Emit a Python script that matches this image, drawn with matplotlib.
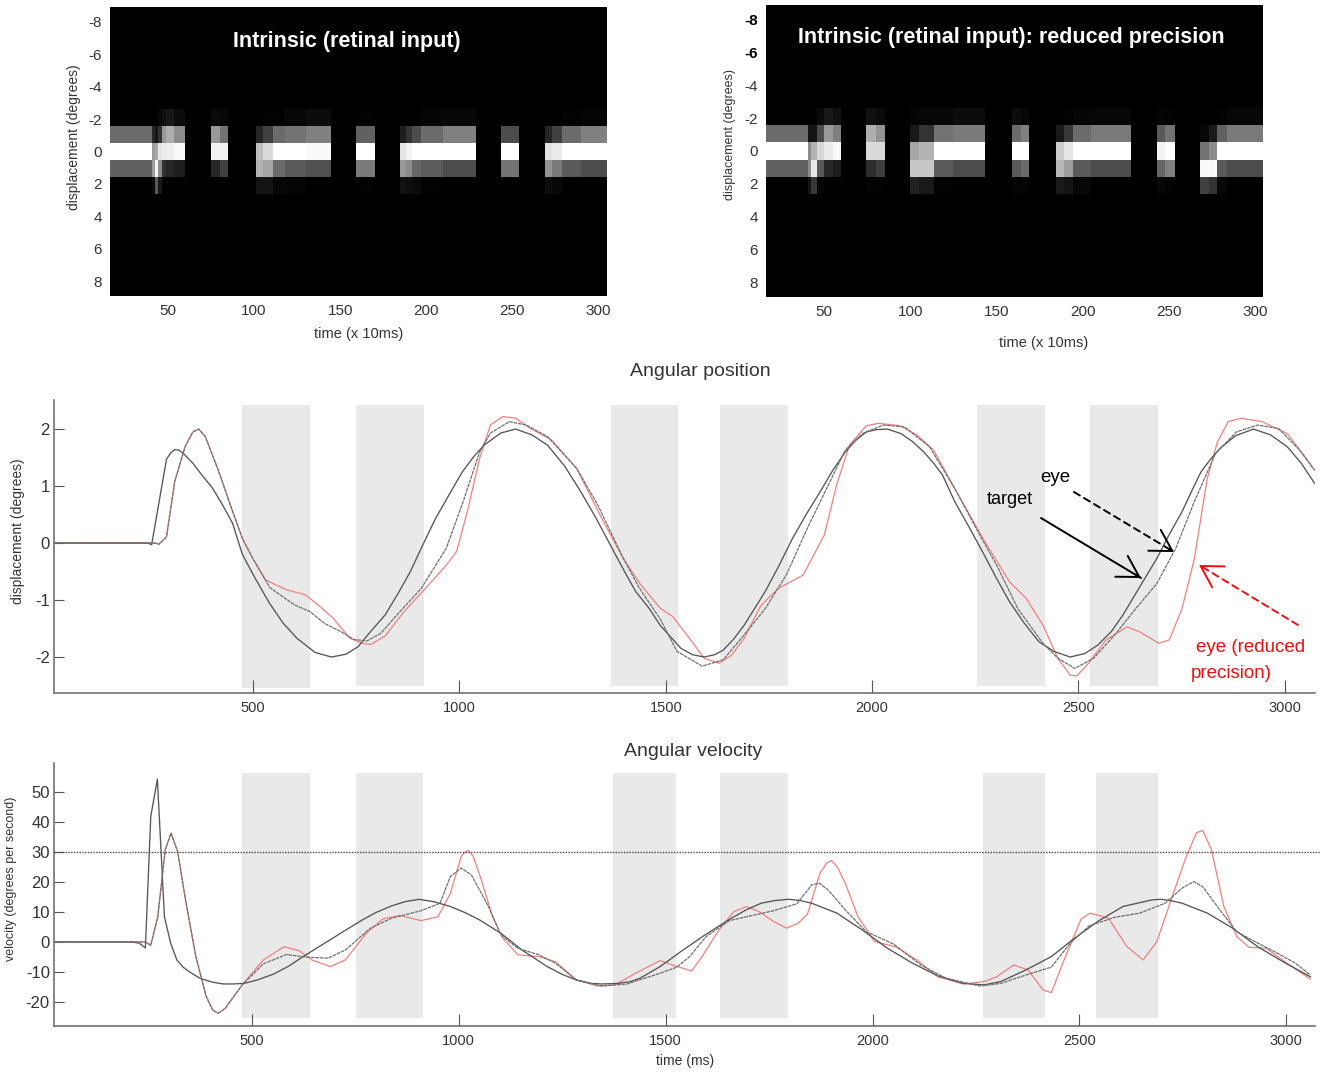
import matplotlib
matplotlib.use("Agg")
import matplotlib.pyplot as plt
import numpy as np

plt.rcParams['font.family'] = ['Liberation Sans', 'DejaVu Sans']
plt.rcParams['axes.unicode_minus'] = False

# ---------- raster panels: window edges (x 10 ms) and grey levels in rows -2,-1,0,1,2
left_edges = [16.3,40.8,42.3,44.3,46.4,49,53.7,60,75,80,85,101,105,110.8,118,130,144.5,159,170,
              185,188,192,197,210,229,243.5,254,269,273,279,290,305]
left_rows = {40.8:[0,.42,1,.38,0],42.3:[0,.15,.6,.6,.05],44.3:[0,.08,.65,.95,.35],46.4:[.03,.2,.9,.55,.1],
             49:[.06,.6,.93,.2,0],53.7:[.09,.68,.93,.15,0],60:[.05,.55,.98,.12,0],
             80:[.04,.6,.95,.15,0],85:[.03,.45,.95,.25,0],
             105:[0,.15,.75,.7,.08],110.8:[.01,.25,.85,.65,.08],118:[.01,.42,1,.42,.03],130:[.03,.45,1,.35,.02],144.5:[.05,.5,.98,.32,0],
             170:[.01,.38,1,.48,.01],
             188:[0,.12,.9,.6,.07],192:[0,.2,.95,.55,.06],197:[0,.3,1,.4,.04],210:[.02,.42,1,.36,.01],229:[.03,.5,1,.3,0],
             254:[0,.3,1,.45,0],
             273:[0,.15,.88,.58,.05],279:[0,.25,.92,.48,.03],290:[.01,.42,1,.35,0],305:[.02,.5,1,.3,0]}
right_edges = [16.2,40.4,42.5,45.6,49.7,55,59.6,74.5,80,85,99.8,105,113.4,125,143.5,159,164,169,
               184.6,189,194.5,205,228,243,248,253.7,268,273,278,284,304.6]
right_rows = {40.4:[0,.42,1,.38,0],42.5:[0,.08,.55,.55,.08],45.6:[0,.08,.7,.92,.22],49.7:[.04,.3,.85,.35,.03],
              55:[.09,.6,.92,.15,0],59.6:[.07,.5,.97,.12,0],
              80:[.07,.68,.85,.18,.01],85:[.05,.58,.85,.25,.01],
              105:[.02,.1,.65,.78,.13],113.4:[.03,.2,.7,.78,.1],125:[.03,.45,1,.35,.01],143.5:[.05,.48,1,.3,0],
              164:[.05,.42,1,.35,.02],169:[.03,.5,1,.42,.02],
              189:[0,.1,.8,.72,.1],194.5:[.01,.22,.9,.62,.08],205:[.02,.42,1,.35,.03],228:[.03,.48,1,.3,0],
              248:[.02,.35,.95,.4,.03],253.7:[.01,.45,1,.5,.01],
              273:[0,.03,.45,.98,.25],278:[0,.1,.55,.97,.2],284:[.01,.38,1,.35,.03],304.6:[.03,.48,1,.3,0]}
raster_x_ticks = [50,100,150,200,250,300]
raster_y_ticks = [-8,-6,-4,-2,0,2,4,6,8]

# ---------- angular position
pos_target_t = [17,245,254,272,290,300,310,320,330,354,375,400,425,450,474,505,540,572,606,650,690,725,754,785,820,850,881,910,942,975,1007,1035,1060,1100,1136,1175,1213,1255,1294,1330,1366,1400,1427,1460,1487,
                1537,1565,1593,1618,1639,1665,1690,1741,1774,1807,1840,1874,1905,1935,1960,1986,2010,2037,2070,2098,2125,2149,2170,2200,2235,2271,2300,2333,2368,2404,2440,2480,2515,2547,2580,2608,2650,2690,2720,2751,2775,2797,2820,2843,2880,2924,2965,3006,3040,3072]
pos_target = [0,0,-.03,.72,1.47,1.58,1.64,1.63,1.58,1.40,1.2,.98,.68,.35,-.2,-.62,-1.06,-1.4,-1.67,-1.92,-2,-1.95,-1.82,-1.55,-1.26,-.9,-.5,-.05,.43,.85,1.25,1.52,1.72,1.93,2,1.9,1.72,1.35,.9,.45,-.04,-.5,-.85,-1.15,-1.45,
              -1.85,-1.96,-2,-1.96,-1.88,-1.68,-1.44,-.85,-.4,.08,.5,.9,1.28,1.6,1.8,1.95,1.99,2,1.92,1.78,1.6,1.4,1.2,.73,.28,-.2,-.6,-1.03,-1.4,-1.73,-1.9,-2,-1.94,-1.79,-1.55,-1.26,-.75,-.27,.15,.55,.92,1.25,1.47,1.66,1.88,2,1.9,1.69,1.4,1.05]
pos_eye_t = [17,262,272,290,310,335,354,368,384,417,448,474,499,530,540,601,637,673,714,744,775,810,856,907,968,1009,1049,1075,1121,1162,1213,1284,1335,1397,1437,1487,
             1527,1588,1639,1690,1741,1792,1843,1894,1935,1976,2027,2078,2139,2200,2261,2302,2353,2414,2450,2491,2537,2588,2639,2690,2736,2781,2832,2883,2934,2985,3036,3072]
pos_eye = [0,0,-.02,.11,1.08,1.69,1.95,2,1.87,1.25,.6,.08,-.27,-.65,-.78,-1.09,-1.2,-1.41,-1.56,-1.69,-1.72,-1.58,-1.2,-.8,-.09,.73,1.6,1.93,2.13,2.07,1.87,1.31,.67,-.27,-.8,-1.34,
           -1.9,-2.16,-2.05,-1.61,-1.15,-.56,.26,1.02,1.63,1.92,2.07,2.04,1.69,.96,.14,-.39,-1.15,-1.76,-2.02,-2.2,-2.02,-1.61,-1.15,-.71,-.09,.73,1.57,1.95,2.07,2.01,1.63,1.28]
pos_red_t = [17,262,272,290,310,335,354,368,384,417,448,474,499,530,581,627,663,694,734,765,785,820,866,917,968,993,1019,1049,1075,1105,1136,1172,1223,1284,1345,1397,1437,1487,
             1517,1557,1593,1629,1659,1690,1731,1772,1833,1884,1914,1945,1986,2016,2067,2108,2149,2200,2271,2333,2373,2414,2450,2480,2496,2521,2567,2618,2649,2695,2720,2751,2781,2812,2837,2863,2894,2945,3006,3046,3072]
pos_red = [0,0,-.02,.11,1.08,1.69,1.95,2,1.87,1.25,.6,.08,-.27,-.65,-.82,-.91,-1.12,-1.32,-1.67,-1.76,-1.78,-1.63,-1.2,-.8,-.39,-.15,.55,1.49,2.07,2.22,2.19,2.01,1.81,1.31,.43,-.27,-.71,-1.15,
           -1.29,-1.67,-2.02,-2.11,-1.97,-1.67,-1.09,-.8,-.56,.14,1.02,1.72,2.06,2.1,2.06,1.9,1.63,.96,.05,-.68,-.97,-1.44,-2.02,-2.32,-2.33,-2.14,-1.7,-1.47,-1.56,-1.76,-1.7,-1.15,-.27,1.13,1.78,2.13,2.19,2.13,1.92,1.54,1.28]
pos_spans = [(474,637,-2.535),(750,913,-2.51),(1366,1530,-2.51),(1632,1796,-2.51),(2253,2419,-2.51),(2527,2692,-2.51)]
pos_span_top = 2.42
pos_y_ticks = [-2,-1,0,1,2]

# ---------- angular velocity
vel_target_t = [22,210,228,243,256,272,289,304,319,334,350,375,405,431,455,482,515,553,590,624,660,695,730,767,800,838,870,904,940,980,1015,1051,1102,1153,1214,1250,1285,1320,1346,1387,1415,1438,1487,
                1537,1598,1659,1695,1731,1765,1797,1825,1853,1914,1975,2036,2097,2158,2219,2270,2310,2371,2432,2483,2544,2605,2656,2675,2697,2720,2748,2809,2870,2931,2992,3058]
vel_target = [0,0,-.4,-2,41.8,54.2,8.4,-.4,-6,-8.4,-10,-12.1,-13.4,-14,-14,-13.8,-12.6,-10.7,-8,-4.9,-1.8,1.2,4.2,7.3,9.8,12,13.4,14.2,13.4,11.8,9.8,7.3,2.9,-2.7,-8.2,-10.8,-12.7,-13.8,-14,-13.8,-13.2,-12.1,-8.2,
              -3.2,2.6,7.9,10.7,12.9,13.8,14.2,13.8,12.9,9.6,4,-2.1,-7.1,-11.3,-13.8,-14.3,-13.2,-9.3,-4.9,.7,6.8,11.8,13.4,14,14.2,13.8,12.9,9.6,4.6,-1.6,-6.6,-11.6]
vel_eye_t = [22,243,256,273,291,305,321,340,365,390,406,419,436,477,528,584,634,685,726,787,838,909,955,980,1006,1031,1072,1102,1143,1194,1234,1285,1346,1407,1487,
             1527,1558,1598,1654,1715,1761,1817,1853,1871,1893,1934,1985,2051,2117,2178,2259,2310,2371,2432,2478,2524,2585,2646,2707,2748,2776,2798,2839,2880,2931,2971,3022,3058]
vel_eye = [0,0,-1.1,8.4,30.7,36.2,30.1,14,-4.9,-18.2,-22.7,-23.8,-22.1,-14.3,-7.3,-4.2,-5.1,-5.4,-2.7,4.6,7.9,10.4,12.9,21.8,24.6,22.3,11.8,2.3,-2.1,-4.3,-7.1,-12.7,-14.7,-14,-10.4,
           -8.4,-4.9,1.8,7.1,9,10.4,12.7,19,19.6,17.3,10.7,3.4,-.7,-7.7,-12.1,-14.7,-13.8,-11,-8.4,-.4,5.4,8.2,9.6,12.9,17.9,20.1,18.4,10.7,3.4,-.4,-3.2,-7.1,-11]
vel_red_t = [22,243,256,273,291,305,321,340,365,390,406,419,436,477,528,578,614,645,690,726,777,817,858,909,950,980,1006,1015,1024,1035,1051,1082,1107,1143,1194,1234,1285,1336,1377,1428,1487,
             1517,1563,1588,1629,1665,1695,1726,1761,1792,1820,1843,1873,1890,1901,1915,1934,1965,2005,2056,2107,2158,2219,2270,2300,2341,2376,2412,2432,2463,2504,2526,2570,2615,2654,2687,2727,2758,2783,2798,2819,2849,2880,2910,2951,3002,3058]
vel_red = [0,0,-1.1,8.4,30.7,36.2,30.1,14,-4.9,-18.2,-22.7,-23.8,-22.1,-14.3,-6,-1.6,-2.9,-6,-8.2,-6,2.9,7.7,8.8,7.1,8.4,16.2,28.4,29.9,30.4,28.5,22.3,8.4,1.2,-4.3,-4.9,-6.6,-12.7,-14.7,-14.3,-10.4,-6.2,
           -7.7,-9.7,-4.9,4,10.1,11.8,10.1,6.8,4.6,6.2,9.3,22.9,26.4,27.1,25,19.6,8.4,.1,-1.6,-6,-11.6,-14,-13.2,-11.6,-7.7,-9.3,-16,-16.9,-6,7.6,9.6,7.9,-1.6,-6,.1,16.2,28.4,36.4,37.1,30.7,11.8,1.8,-1.8,-2.1,-7.1,-12.4]
vel_spans = [(477,640),(752,915),(1372,1525),(1632,1796),(2267,2416),(2540,2689)]
vel_span_limits = (-25.2,56.4)
vel_threshold = 30
vel_y_ticks = [-20,-10,0,10,20,30,40,50]
time_ticks = [500,1000,1500,2000,2500,3000]

W, H = 1323, 1075
fig = plt.figure(figsize=(W/100, H/100), dpi=100, facecolor='white')
def axpx(l, t, r, b):
    return fig.add_axes([l/W, 1-b/H, (r-l)/W, (b-t)/H])
def tpx(x, y, s, **kw):
    kw.setdefault('ha', 'center'); kw.setdefault('va', 'center'); kw.setdefault('color', '#333333')
    return fig.text(x/W, 1-y/H, s, **kw)

def raster(ax, edges, rows, xlim):
    ax.set_facecolor('black')
    rowh = 17.8/17
    y_edges = np.array([-2.5, -1.5, -.5, .5, 1.5, 2.5])*rowh
    for a, b in zip(edges[:-1], edges[1:]):
        if b in rows:
            col = np.array(rows[b]).reshape(-1, 1)
            ax.pcolormesh([a, b], y_edges, col, cmap='gray', vmin=0, vmax=1, shading='flat', antialiased=False)
    ax.set_xlim(*xlim); ax.set_ylim(8.9, -8.9)
    ax.set_xticks(raster_x_ticks); ax.set_yticks(raster_y_ticks)
    ax.tick_params(length=0, labelsize=11, labelcolor='#333333', pad=6)
    for s in ax.spines.values():
        s.set_visible(False)

a1 = axpx(110, 7, 607, 296)
raster(a1, left_edges, left_rows, (16.3, 305))
a2 = axpx(766, 5, 1263, 297)
raster(a2, right_edges, right_rows, (16.2, 304.6))
for lab in a2.get_yticklabels()[:2]:
    lab.set_fontweight('bold'); lab.set_color('black')
tpx(347, 42, 'Intrinsic (retinal input)', color='white', fontweight='bold', fontsize=15.5)
tpx(1011, 38, 'Intrinsic (retinal input): reduced precision', color='white', fontweight='bold', fontsize=15.5)
tpx(359, 334, 'time (x 10ms)', fontsize=10.5)
tpx(1044, 343, 'time (x 10ms)', fontsize=10.5)
tpx(74, 137, 'displacement (degrees)', rotation=90, fontsize=10)
tpx(730, 134, 'displacement (degrees)', rotation=90, fontsize=9)

def styled(ax, xlim, ylim, yticks, xlen):
    ax.set_xlim(*xlim); ax.set_ylim(*ylim)
    ax.set_xticks(time_ticks); ax.set_yticks(yticks)
    ax.spines['top'].set_visible(False); ax.spines['right'].set_visible(False)
    for s in ('left', 'bottom'):
        ax.spines[s].set_color('#666666'); ax.spines[s].set_linewidth(1.1)
    ax.tick_params(axis='x', direction='in', length=xlen, width=.8, color='#555555', labelsize=10.5, labelcolor='#333333', pad=6)
    ax.tick_params(axis='y', direction='in', length=7.2, width=.8, color='#555555', labelsize=12, labelcolor='#333333', pad=3)

def curves(ax, tg, tgy, ey, eyy, rd, rdy):
    ax.plot(rd, rdy, color='#f08080', lw=.9, zorder=3)
    ax.plot(tg, tgy, color='#555555', lw=.95, zorder=4)
    ax.plot(ey, eyy, color='#707070', lw=.9, ls=(0, (3, .6)), zorder=5)

a3 = axpx(54, 400, 1314.5, 692.7)
for a, b, lo in pos_spans:
    a3.fill_between([a, b], lo, pos_span_top, color='#e9e9e9', lw=0, zorder=1)
curves(a3, pos_target_t, pos_target, pos_eye_t, pos_eye, pos_red_t, pos_red)
styled(a3, (17.4, 3072), (-2.626, 2.51), pos_y_ticks, 9.5)
tpx(700, 372, 'Angular position', fontsize=14)
tpx(18, 531, 'displacement (degrees)', rotation=90, fontsize=10)

a4 = axpx(54, 763.3, 1314.5, 1026)
for a, b in vel_spans:
    a4.fill_between([a, b], vel_span_limits[0], vel_span_limits[1], color='#e9e9e9', lw=0, zorder=1)
curves(a4, vel_target_t, vel_target, vel_eye_t, vel_eye, vel_red_t, vel_red)
a4.plot([22, 3082], [vel_threshold, vel_threshold], color='#444444', lw=1.0, ls=(0, (1, 1)), zorder=6, clip_on=False)
styled(a4, (22.2, 3068), (-28, 59.5), vel_y_ticks, 9)
tpx(693, 751, 'Angular velocity', fontsize=14)
tpx(685, 1061, 'time (ms)', fontsize=10)
tpx(11, 879, 'velocity (degrees per second)', rotation=90, fontsize=9)

# annotations
tpx(1055, 477, 'eye', color='black', fontsize=13.5)
tpx(1010, 500, 'target', color='black', fontsize=13)
tpx(1251, 648, 'eye (reduced', color='#e81010', fontsize=13.5)
tpx(1231, 674, 'precision)', color='#e81010', fontsize=13.5)
def arrow(x0, y0, x1, y1, col, ls):
    # shaft, then a solid open head placed on its last stretch
    fig.add_artist(matplotlib.patches.FancyArrowPatch(
        (x0/W, 1-y0/H), (x1/W, 1-y1/H), transform=fig.transFigure, color=col, lw=1.4, linestyle=ls,
        arrowstyle='-', shrinkA=0, shrinkB=0, zorder=10))
    fig.add_artist(matplotlib.patches.FancyArrowPatch(
        ((x0+(x1-x0)*.95)/W, 1-(y0+(y1-y0)*.95)/H), (x1/W, 1-y1/H), transform=fig.transFigure, color=col, lw=1.4,
        arrowstyle='->,head_length=12,head_width=7', mutation_scale=1.25, shrinkA=0, shrinkB=0, zorder=10))
arrow(1041, 518, 1141, 578, 'black', '-')
arrow(1074, 492, 1174, 552, 'black', (0, (3.5, 2.5)))
arrow(1298, 625, 1199, 565, '#e81010', (0, (3.5, 2.5)))

fig.savefig('out.png', dpi=100, facecolor='white')
